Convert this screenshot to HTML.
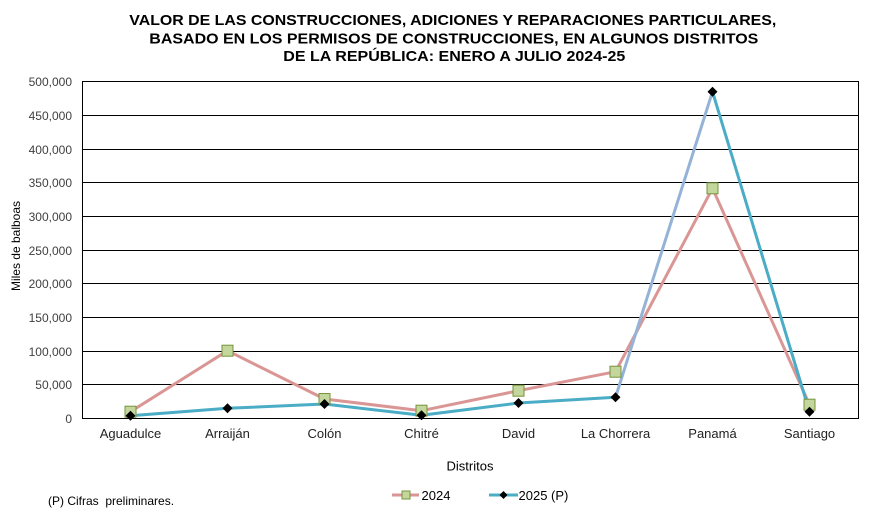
<!DOCTYPE html>
<html>
<head>
<meta charset="utf-8">
<style>
html,body{margin:0;padding:0;background:#fff;}
svg{display:block;font-family:"Liberation Sans",Arial,sans-serif;}
</style>
</head>
<body>
<svg width="880" height="519" viewBox="0 0 880 519" xmlns="http://www.w3.org/2000/svg">
<rect width="880" height="519" fill="#fff"/>
<!-- Title -->
<g font-weight="bold" font-size="15" fill="#000">
<text x="129.3" y="25" textLength="647" lengthAdjust="spacingAndGlyphs">VALOR DE LAS CONSTRUCCIONES, ADICIONES Y REPARACIONES PARTICULARES,</text>
<text x="149.3" y="43.5" textLength="609" lengthAdjust="spacingAndGlyphs">BASADO EN LOS PERMISOS DE CONSTRUCCIONES, EN ALGUNOS DISTRITOS</text>
<text x="283.3" y="61" textLength="342" lengthAdjust="spacingAndGlyphs">DE LA REPÚBLICA: ENERO A JULIO 2024-25</text>
</g>
<!-- Gridlines -->
<g stroke="#000" stroke-width="1">
<line x1="82" y1="81.5" x2="859" y2="81.5"/>
<line x1="82" y1="115.5" x2="859" y2="115.5"/>
<line x1="82" y1="149.5" x2="859" y2="149.5"/>
<line x1="82" y1="182.5" x2="859" y2="182.5"/>
<line x1="82" y1="216.5" x2="859" y2="216.5"/>
<line x1="82" y1="250.5" x2="859" y2="250.5"/>
<line x1="82" y1="283.5" x2="859" y2="283.5"/>
<line x1="82" y1="317.5" x2="859" y2="317.5"/>
<line x1="82" y1="351.5" x2="859" y2="351.5"/>
<line x1="82" y1="384.5" x2="859" y2="384.5"/>
<line x1="82" y1="418.5" x2="859" y2="418.5"/>
<line x1="82.5" y1="81" x2="82.5" y2="419"/>
<line x1="858.5" y1="81" x2="858.5" y2="419"/>
</g>
<!-- Y tick labels -->
<g font-size="12" fill="#404040" text-anchor="end">
<text x="72" y="86">500,000</text>
<text x="72" y="120">450,000</text>
<text x="72" y="154">400,000</text>
<text x="72" y="187">350,000</text>
<text x="72" y="221">300,000</text>
<text x="72" y="255">250,000</text>
<text x="72" y="288">200,000</text>
<text x="72" y="322">150,000</text>
<text x="72" y="356">100,000</text>
<text x="72" y="389">50,000</text>
<text x="72" y="423">0</text>
</g>
<!-- Y axis title -->
<text transform="translate(20,246) rotate(-90)" font-size="12" fill="#000" text-anchor="middle">Miles de balboas</text>
<!-- Category labels -->
<g font-size="13" fill="#222" text-anchor="middle">
<text x="130.5" y="438">Aguadulce</text>
<text x="227.5" y="438">Arraiján</text>
<text x="324.5" y="438">Colón</text>
<text x="421.5" y="438">Chitré</text>
<text x="518.5" y="438">David</text>
<text x="615.5" y="438">La Chorrera</text>
<text x="712.5" y="438">Panamá</text>
<text x="809.5" y="438">Santiago</text>
</g>
<text x="470" y="470.5" font-size="13" fill="#000" text-anchor="middle">Distritos</text>
<!-- Series 2024 -->
<polyline fill="none" stroke="#D99694" stroke-width="3" stroke-linejoin="round" points="130.5,411.7 227.5,350.7 324.5,399 421.5,410.7 518.5,390.7 615.5,371.7 712.5,188.3 809.5,404.7"/>
<!-- Series 2025 -->
<polyline fill="none" stroke="#4BACC6" stroke-width="3" stroke-linejoin="round" points="130.5,415.7 227.5,408.3 324.5,404 421.5,415.3 518.5,403 615.5,397.3"/>
<line x1="615.5" y1="397.3" x2="712.5" y2="91.7" stroke="#95B3D7" stroke-width="3"/>
<polyline fill="none" stroke="#4BACC6" stroke-width="3" stroke-linejoin="round" points="712.5,91.7 809.5,411.7"/>
<!-- 2024 markers -->
<g fill="#C3D69B" stroke="#77933C" stroke-width="1">
<rect x="125" y="406.2" width="11" height="11"/>
<rect x="222" y="345.2" width="11" height="11"/>
<rect x="319" y="393.5" width="11" height="11"/>
<rect x="416" y="405.2" width="11" height="11"/>
<rect x="513" y="385.2" width="11" height="11"/>
<rect x="610" y="366.2" width="11" height="11"/>
<rect x="707" y="182.8" width="11" height="11"/>
<rect x="804" y="399.2" width="11" height="11"/>
</g>
<!-- 2025 markers -->
<g fill="#000">
<polygon points="130.5,410.7 135.5,415.7 130.5,420.7 125.5,415.7"/>
<polygon points="227.5,403.3 232.5,408.3 227.5,413.3 222.5,408.3"/>
<polygon points="324.5,399 329.5,404 324.5,409 319.5,404"/>
<polygon points="421.5,410.3 426.5,415.3 421.5,420.3 416.5,415.3"/>
<polygon points="518.5,398 523.5,403 518.5,408 513.5,403"/>
<polygon points="615.5,392.3 620.5,397.3 615.5,402.3 610.5,397.3"/>
<polygon points="712.5,86.7 717.5,91.7 712.5,96.7 707.5,91.7"/>
<polygon points="809.5,406.7 814.5,411.7 809.5,416.7 804.5,411.7"/>
</g>
<!-- Legend -->
<line x1="392" y1="495" x2="419" y2="495" stroke="#D99694" stroke-width="3"/>
<rect x="402" y="491" width="8" height="8" fill="#C3D69B" stroke="#77933C" stroke-width="1"/>
<text x="421.5" y="500" font-size="13" fill="#000">2024</text>
<line x1="489" y1="495" x2="518" y2="495" stroke="#4BACC6" stroke-width="3"/>
<polygon points="503.5,491 507.5,495 503.5,499 499.5,495" fill="#000"/>
<text x="518.5" y="500" font-size="13" fill="#000">2025 (P)</text>
<!-- Footnote -->
<text x="48" y="505" font-size="12" fill="#000" xml:space="preserve">(P) Cifras  preliminares.</text>
</svg>
</body>
</html>
